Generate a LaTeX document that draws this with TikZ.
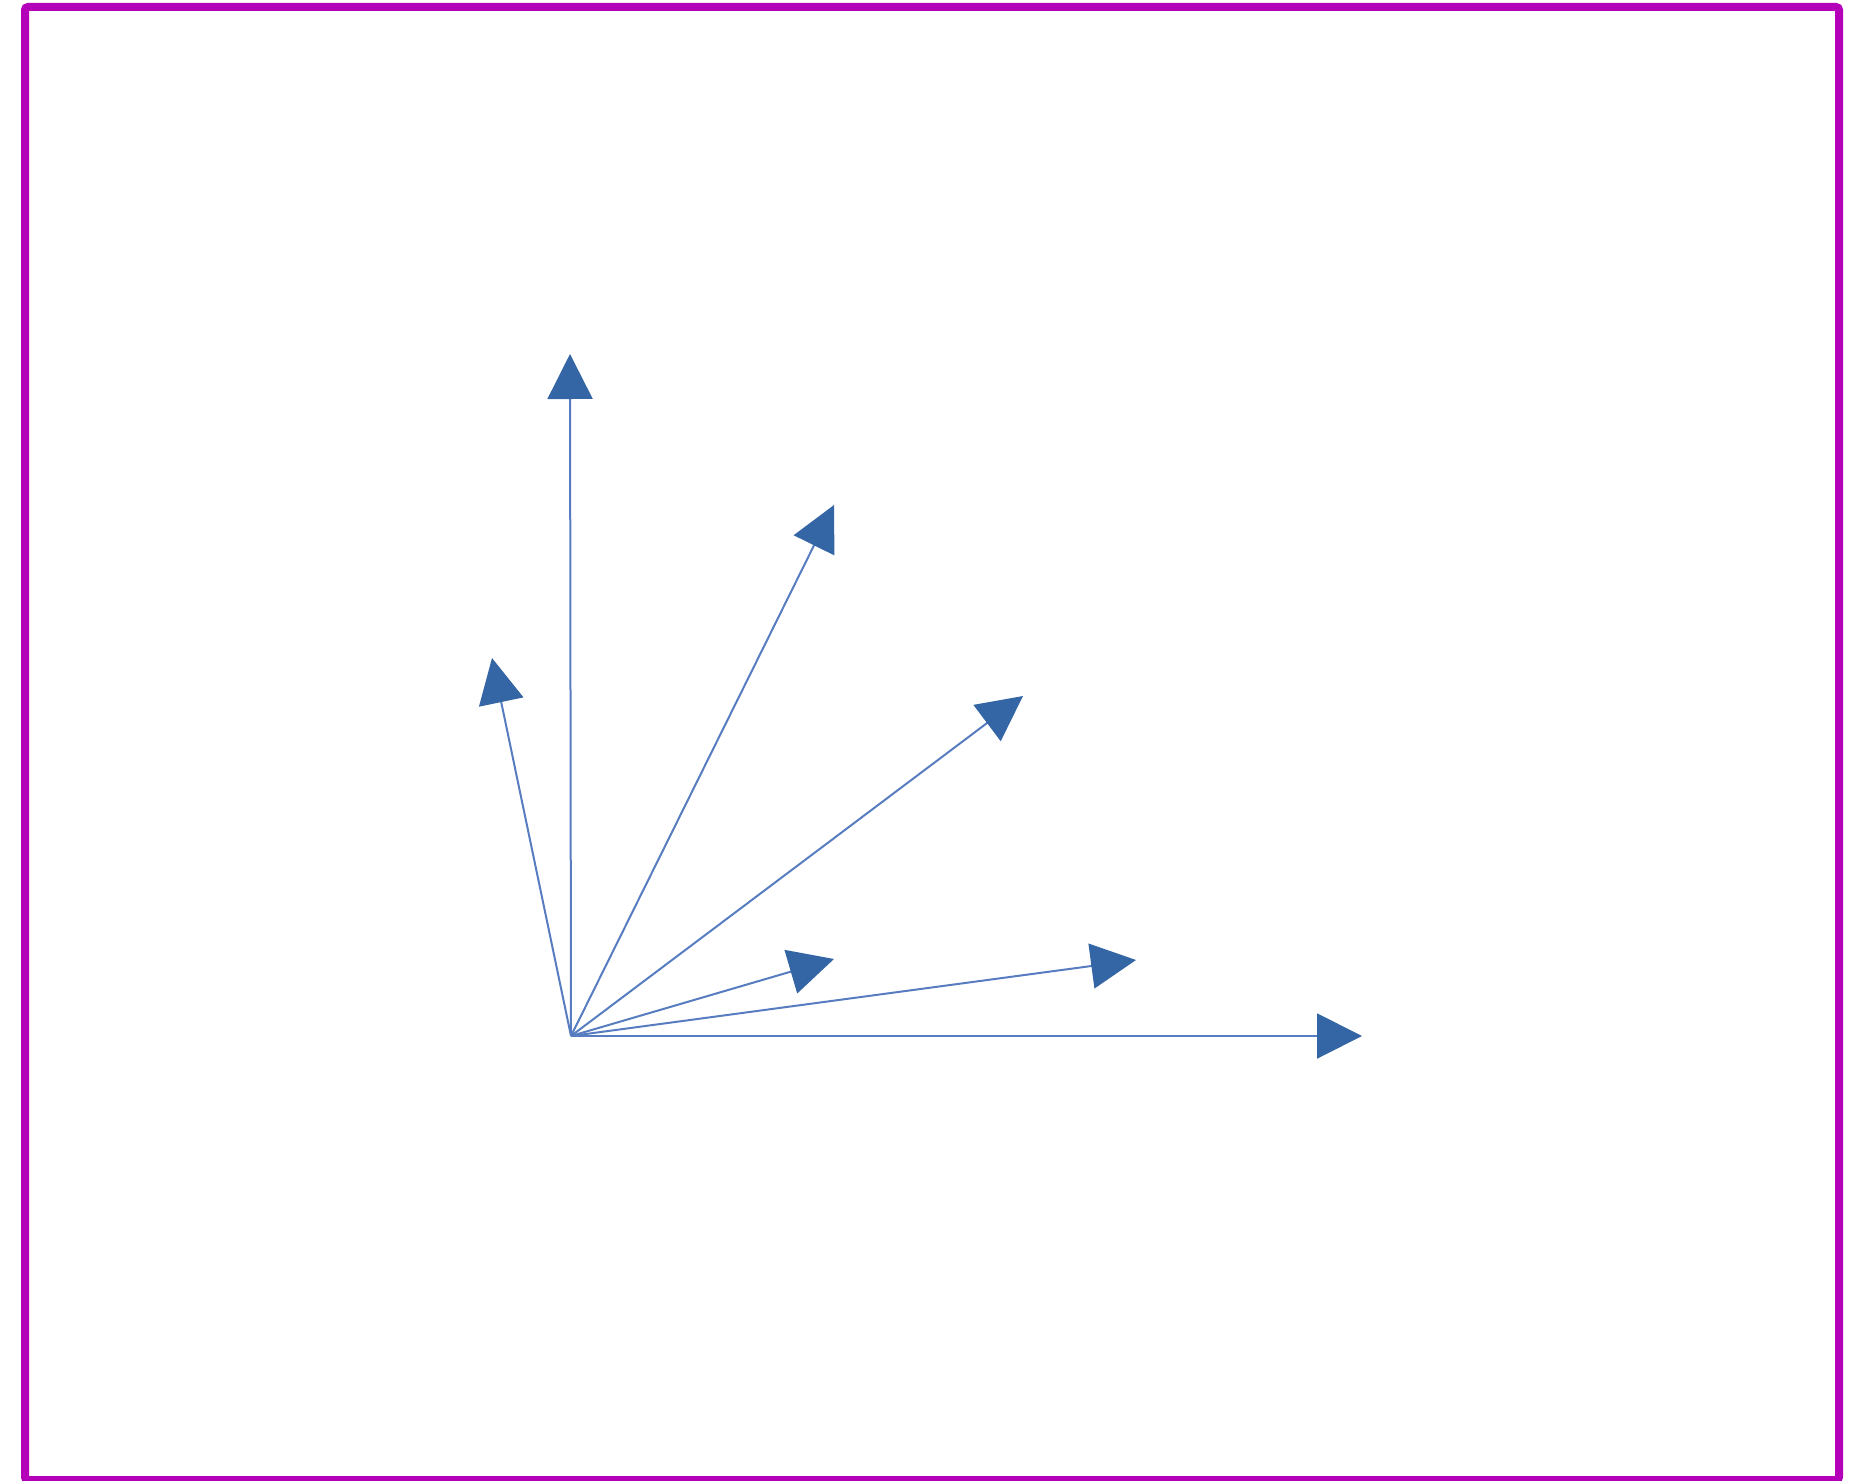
\documentclass[tikz,border=0pt]{standalone}
\usetikzlibrary{arrows.meta}
\definecolor{framepurple}{RGB}{180,0,185}
\definecolor{vecblue}{RGB}{52,101,164}
\definecolor{vecline}{RGB}{88,124,192}
\tikzset{
 frame/.style={draw=framepurple,line width=8pt,rounded corners=3pt},
 vector/.style={draw=vecline,line width=2pt,-{Triangle[length=45pt,width=45pt,color=vecblue,fill=vecblue]}}
}
\begin{document}
\begin{tikzpicture}[x=1pt,y=-1pt]
\path[use as bounding box] (0,0) rectangle (1865,1480);
\draw[frame] (25,7) rectangle (1839,1480);
\coordinate (O) at (571,1036);
\coordinate (Up) at (570,354);
\coordinate (Steep) at (834,505);
\coordinate (Back) at (492,658);
\coordinate (Diag) at (1023,696);
\coordinate (Short) at (834,959);
\coordinate (Flat) at (1136,960);
\coordinate (Right) at (1362,1036);
\draw[vector] (O) -- (Up);
\draw[vector] (O) -- (Steep);
\draw[vector] (O) -- (Back);
\draw[vector] (O) -- (Diag);
\draw[vector] (O) -- (Short);
\draw[vector] (O) -- (Flat);
\draw[vector] (O) -- (Right);
\end{tikzpicture}
\end{document}
